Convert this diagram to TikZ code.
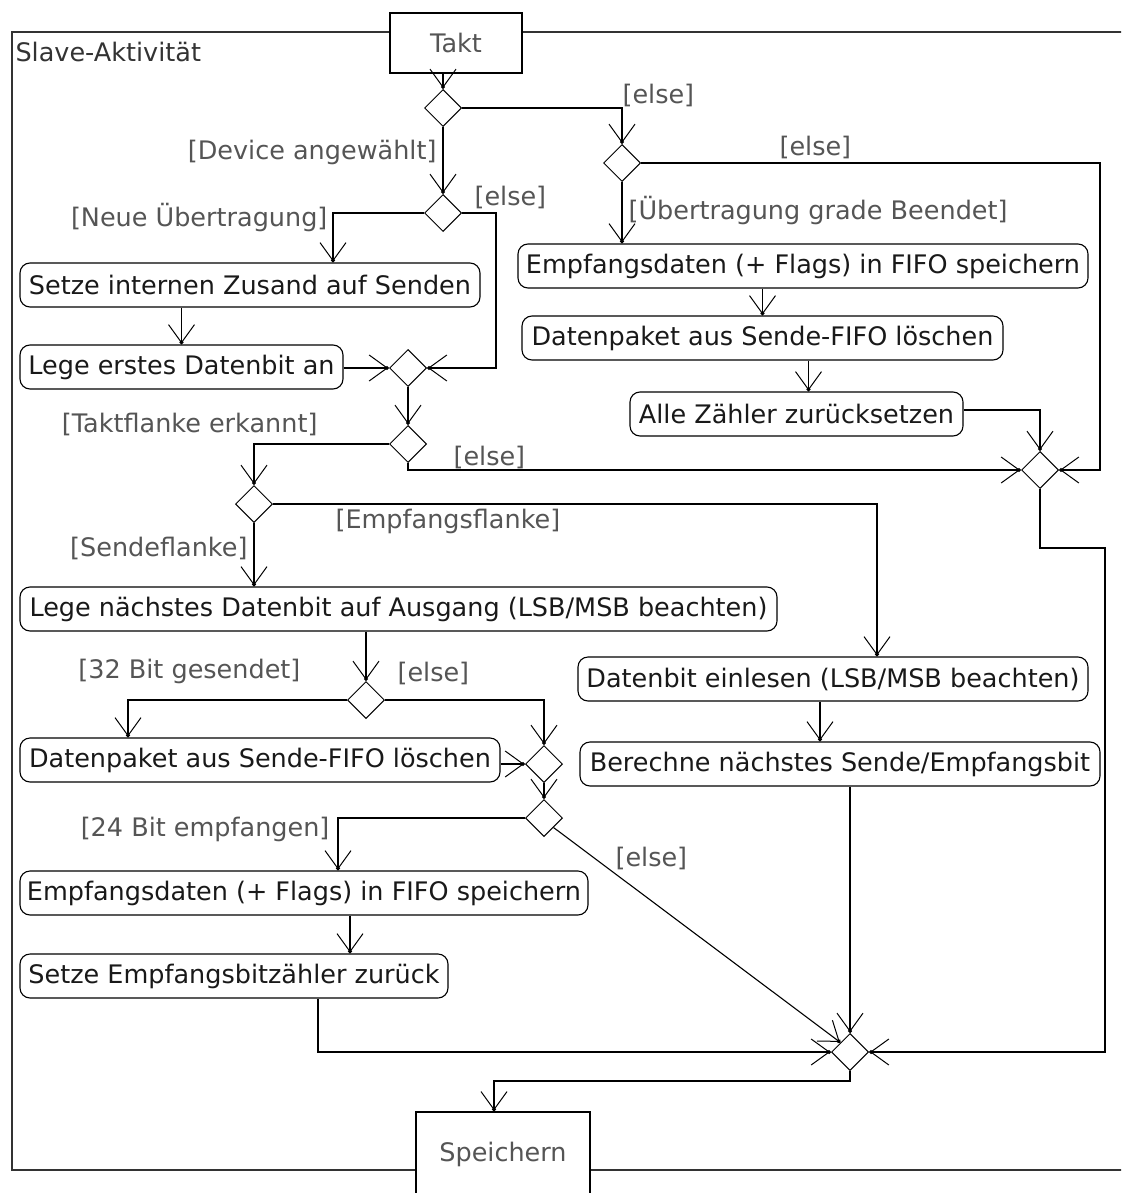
\documentclass[tikz,border=0pt]{standalone}
\usepackage{fontspec}
\setmainfont{DejaVu Sans}
\usetikzlibrary{arrows.meta,shapes.geometric}

\definecolor{guardgray}{HTML}{555555}
\definecolor{framegray}{HTML}{333333}
\newcommand\dfont{\fontsize{25.5}{29}\selectfont}

\tikzset{
  act/.style={draw, rounded corners=10pt, minimum height=44pt, inner sep=3pt, font=\dfont, text=black!90},
  dec/.style={draw, diamond, minimum size=37pt, inner sep=0pt, line width=1pt},
  guard/.style={text=guardgray, font=\dfont, inner sep=0pt},
  flow/.style={line width=1.1pt, -{Straight Barb[length=18pt,width=26pt,line width=1pt,sep=-3pt]Circle[length=4pt]}},
  pinbox/.style={draw, fill=white, line width=1.2pt, text=guardgray, font=\dfont},
}

\begin{document}
\begin{tikzpicture}[x=1pt,y=-1pt,line width=1.1pt]
\useasboundingbox (0,0) rectangle (1121,1193);
\clip (0,0) rectangle (1121,1193);
\draw[framegray,line width=1.3pt] (12,32) rectangle (1140,1170);
\node[guard,anchor=west,text=framegray] (title) at (15,52) {Slave-Aktivität};
\node[pinbox,minimum width=132pt,minimum height=60pt] (Takt) at (456,43) {Takt};
\node[pinbox,minimum width=174pt,minimum height=84pt] (Sp) at (503,1154) {Speichern};

% Entscheidungen / Zusammenführungen
\foreach \name/\x/\y in {D1/443/108, D2/622/163, D3/443/213, M2/408/368, D4/408/444,
  M1/1040/470, D5/254/504, D6/366/700, M4/544/764, D7/544/818, M3/850/1052}
  \node[dec] (\name) at (\x,\y) {};

\node[act,minimum width=460pt] (L1) at (250,285) {Setze internen Zusand auf Senden};
\node[act,minimum width=323pt] (L2) at (181.5,367) {Lege erstes Datenbit an};
\node[act,minimum width=570pt] (E1) at (803,266) {Empfangsdaten (+ Flags) in FIFO speichern};
\node[act,minimum width=481pt] (E2) at (762.5,338) {Datenpaket aus Sende-FIFO löschen};
\node[act,minimum width=333pt] (E3) at (796.5,414) {Alle Zähler zurücksetzen};
\node[act,minimum width=757pt] (S1) at (398.5,609) {Lege nächstes Datenbit auf Ausgang (LSB/MSB beachten)};
\node[act,minimum width=510pt] (R1) at (833,679) {Datenbit einlesen (LSB/MSB beachten)};
\node[act,minimum width=520pt] (R2) at (840,764) {Berechne nächstes Sende/Empfangsbit};
\node[act,minimum width=480pt] (S2) at (260,760) {Datenpaket aus Sende-FIFO löschen};
\node[act,minimum width=568pt] (T1) at (304,893) {Empfangsdaten (+ Flags) in FIFO speichern};
\node[act,minimum width=428pt] (T2) at (234,976) {Setze Empfangsbitzähler zurück};

\coordinate (rr) at (1100,0);
\coordinate (rb) at (1105,548);

\draw[flow] (Takt.south -| D1) -- (D1.north);
\draw[flow] (D1.east) -| (D2.north);
\draw[flow] (D1.south) -- (D3.north);
\draw[flow] (D2.south) -- (D2 |- E1.north);
\draw[flow] (D2.east) -- (rr |- D2.east) |- (M1.east);
\draw[flow] (E1.south -| E2) -- (E2.north);
\draw[flow] ([xshift=12pt]E3.north |- E2.south) -- ([xshift=12pt]E3.north);
\draw[flow] ([yshift=4pt]E3.east) -| (M1.north);
\draw[flow] (M1.south) |- (rb) |- (M3.east);
\draw[flow] (D3.west) -| ([xshift=83pt]L1.north);
\draw[flow] (D3.east) -- ++(34,0) |- (M2.east);
\draw[flow] (L1.south -| L2) -- (L2.north);
\draw[flow] (L2.east |- M2.west) -- (M2.west);
\draw[flow] (M2.south) -- (D4.north);
\draw[flow] (D4.west) -| (D5.north);
\draw[flow] (D4.south) |- (M1.west);
\draw[flow] (D5.east) -| ([xshift=44pt]R1.north);
\draw[flow] (D5.south) -- (D5 |- S1.north);
\draw[flow] (S1.south -| D6) -- (D6.north);
\draw[flow] (D6.west) -| ([xshift=-132pt]S2.north);
\draw[flow] (D6.east) -| (M4.north);
\draw[flow] (S2.east |- M4.west) -- (M4.west);
\draw[flow] (M4.south) -- (D7.north);
\draw[flow] (D7.west) -| ([xshift=34pt]T1.north);
\draw[flow] (D7.south east) -- (M3.north west);
\draw[flow] ([xshift=-20pt]R2.north |- R1.south) -- ([xshift=-20pt]R2.north);
\draw[flow] (R2.south -| M3) -- (M3.north);
\draw[flow] ([xshift=116pt]T2.north |- T1.south) -- ([xshift=116pt]T2.north);
\draw[flow] ([xshift=84pt]T2.south) |- (M3.west);
\draw[flow] (M3.south) -- ++(0,10) -| ([xshift=-9pt]Sp.north);

\foreach \a/\x/\y/\t [count=\i] in {west/622/95/{[else]}, west/779/147/{[else]},
  east/437/152/{[Device angewählt]}, west/474/197/{[else]},
  east/328/218/{[Neue Übertragung]}, west/628/211/{[Übertragung grade Beendet]},
  east/318/424/{[Taktflanke erkannt]}, west/453/457/{[else]},
  west/335/521/{[Empfangsflanke]}, east/248/548/{[Sendeflanke]},
  east/301/671/{[32 Bit gesendet]}, west/397/673/{[else]},
  east/330/829/{[24 Bit empfangen]}, west/615/858/{[else]}}
  \node[guard,anchor=\a] (g\i) at (\x,\y) {\t};
\end{tikzpicture}
\end{document}
